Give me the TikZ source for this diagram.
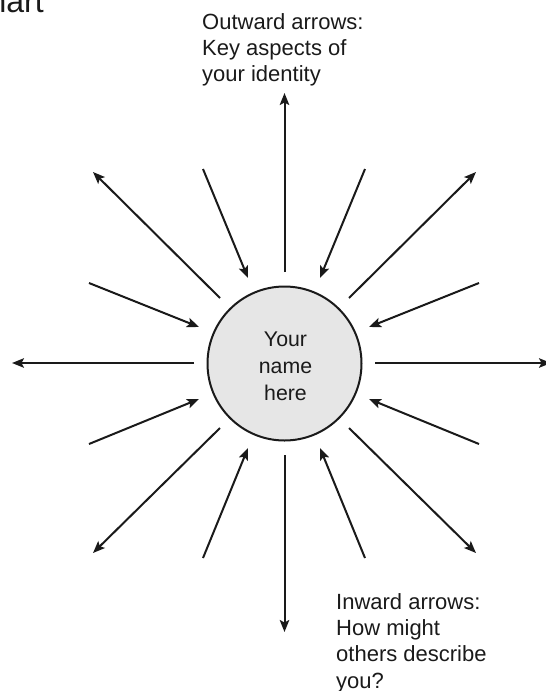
\documentclass[tikz,border=0pt]{standalone}
\usepackage{fontspec}
\setmainfont{Liberation Sans}
\usetikzlibrary{arrows.meta}
\definecolor{ink}{HTML}{1A1A1A}
\definecolor{disc}{HTML}{E6E6E6}
\tikzset{
  arr/.style={draw=ink, line width=2pt, -{Stealth[length=12pt,width=9.5pt,inset=2.5pt]}},
  lbl/.style={inner sep=0pt, align=left, text=ink, font=\fontsize{22}{26.3}\selectfont},
  hub/.style={circle, draw=ink, line width=2pt, fill=disc, minimum size=154pt, inner sep=0pt},
  hubtext/.style={inner sep=0pt, align=center, text=ink, font=\fontsize{21.3}{26.7}\selectfont}
}
\begin{document}
\begin{tikzpicture}[x=1pt,y=-1pt]
\useasboundingbox (0,0) rectangle (546,691);
\node[inner sep=0pt, anchor=base east, text=ink, font=\fontsize{32}{38}\selectfont] (title) at (44,12) {Chart};
\node[hub] (c) at (284.5,363.5) {};
\node[hubtext, anchor=base] (ctext) at (285.5,400) {Your\\name\\here};
% outward arrow ends
\coordinate (oNs) at (284.5,272); \coordinate (oNt) at (284.5,93);
\coordinate (oSs) at (284.5,455); \coordinate (oSt) at (284.5,632);
\coordinate (oWs) at (194,363);   \coordinate (oWt) at (12,363);
\coordinate (oEs) at (375,363);   \coordinate (oEt) at (551,363);
\coordinate (oNWs) at (220,298);  \coordinate (oNWt) at (93,172);
\coordinate (oNEs) at (349,298);  \coordinate (oNEt) at (476,172);
\coordinate (oSWs) at (220,428);  \coordinate (oSWt) at (93,553);
\coordinate (oSEs) at (349,428);  \coordinate (oSEt) at (476,553);
% inward arrow ends
\coordinate (iNNWs) at (203,169); \coordinate (iNNWt) at (248,278);
\coordinate (iNNEs) at (365,169); \coordinate (iNNEt) at (320,278);
\coordinate (iWNWs) at (89,283);  \coordinate (iWNWt) at (199,327);
\coordinate (iENEs) at (479,283); \coordinate (iENEt) at (369,327);
\coordinate (iWSWs) at (89,444);  \coordinate (iWSWt) at (199,399);
\coordinate (iESEs) at (479,444); \coordinate (iESEt) at (369,399);
\coordinate (iSSWs) at (203,558); \coordinate (iSSWt) at (248,448);
\coordinate (iSSEs) at (365,558); \coordinate (iSSEt) at (320,448);
\draw[arr] (oNs) -- (oNt);
\draw[arr] (oSs) -- (oSt);
\draw[arr] (oWs) -- (oWt);
\draw[arr] (oEs) -- (oEt);
\draw[arr] (oNWs) -- (oNWt);
\draw[arr] (oNEs) -- (oNEt);
\draw[arr] (oSWs) -- (oSWt);
\draw[arr] (oSEs) -- (oSEt);
\draw[arr] (iNNWs) -- (iNNWt);
\draw[arr] (iNNEs) -- (iNNEt);
\draw[arr] (iWNWs) -- (iWNWt);
\draw[arr] (iENEs) -- (iENEt);
\draw[arr] (iWSWs) -- (iWSWt);
\draw[arr] (iESEs) -- (iESEt);
\draw[arr] (iSSWs) -- (iSSWt);
\draw[arr] (iSSEs) -- (iSSEt);
\node[lbl, anchor=base west] (top) at (202,81.7) {Outward arrows:\\Key aspects of\\your identity};
\node[lbl, anchor=base west] (bot) at (336,688) {Inward arrows:\\How might\\others describe\\you?};
\end{tikzpicture}
\end{document}
